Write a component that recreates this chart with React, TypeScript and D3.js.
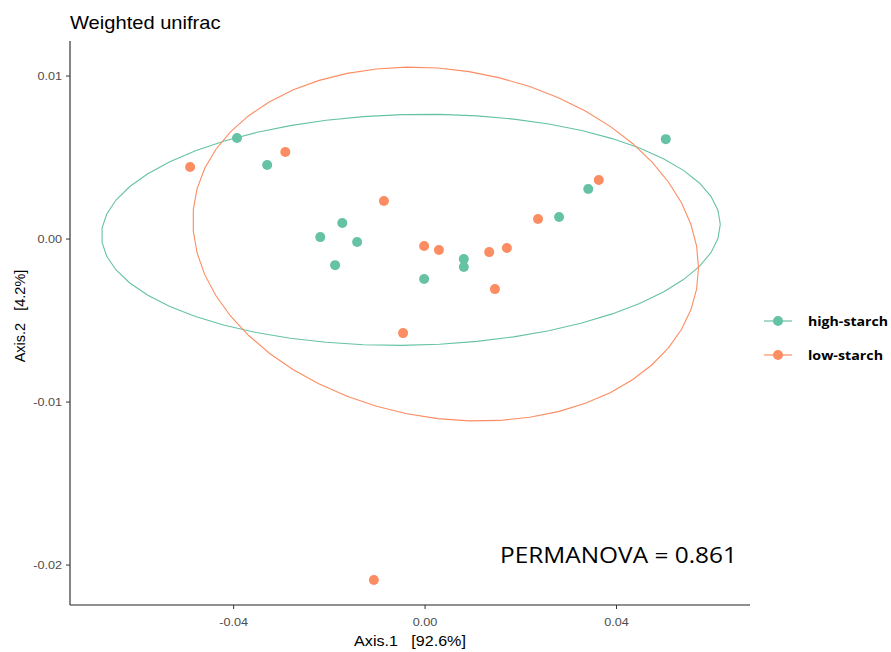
import React from "react";
import * as d3 from "d3";

const title = "Weighted unifrac";
const groups = ["high-starch", "low-starch"];
const colors = ["#66C2A5", "#FC8D62"];

const highX = [-0.0393, -0.033, -0.0219, -0.0173, -0.0142, -0.0188, -0.0002, 0.0081, 0.0081, 0.028, 0.0341, 0.0503];
const highY = [0.0062, 0.00454, 0.00012, 0.00098, -0.00018, -0.0016, -0.00245, -0.00123, -0.00172, 0.00135, 0.00307, 0.00613];
const lowX = [-0.0491, -0.0292, -0.0086, -0.0002, 0.0029, 0.0134, 0.0171, 0.0146, 0.0236, 0.0363, -0.0046, -0.0107];
const lowY = [0.00442, 0.00534, 0.00233, -0.00043, -0.00067, -0.0008, -0.00055, -0.00307, 0.00123, 0.00362, -0.00577, -0.02092];

const xTicks = [-0.04, 0, 0.04];
const yTicks = [0.01, 0, -0.01, -0.02];
const xDomain = [-0.0742, 0.0679];
const yDomain = [-0.02245, 0.01215];

// MASS::cov.trob (nu = 5) as used by ggplot2::stat_ellipse(type = "t")
function covTrob(xs: number[], ys: number[]) {
  const n = xs.length, p = 2, nu = 5;
  let loc = [d3.mean(xs)!, d3.mean(ys)!];
  let w = xs.map(() => 1);
  let X: number[][] = [];
  for (let iter = 0; iter < 25; iter++) {
    const w0 = w.slice();
    X = xs.map((x, i) => [x - loc[0], ys[i] - loc[1]]);
    const sw = d3.sum(w);
    let s11 = 0, s12 = 0, s22 = 0;
    X.forEach((v, i) => { s11 += w[i] * v[0] * v[0]; s12 += w[i] * v[0] * v[1]; s22 += w[i] * v[1] * v[1]; });
    s11 /= sw; s12 /= sw; s22 /= sw;
    const det = s11 * s22 - s12 * s12;
    const Q = X.map(v => (s22 * v[0] * v[0] - 2 * s12 * v[0] * v[1] + s11 * v[1] * v[1]) / det);
    w = Q.map(q => (nu + p) / (nu + q));
    const sw2 = d3.sum(w);
    loc = [d3.sum(xs.map((x, i) => w[i] * x)) / sw2, d3.sum(ys.map((y, i) => w[i] * y)) / sw2];
    if (w.every((v, i) => Math.abs(v - w0[i]) < 0.01)) break;
  }
  let c11 = 0, c12 = 0, c22 = 0;
  X.forEach((v, i) => { c11 += w[i] * v[0] * v[0]; c12 += w[i] * v[0] * v[1]; c22 += w[i] * v[1] * v[1]; });
  return { center: loc, cov: [c11 / n, c12 / n, c22 / n], n };
}

function ellipsePoints(xs: number[], ys: number[]) {
  const { center, cov, n } = covTrob(xs, ys);
  const dfd = n - 1;
  const fq = (dfd / 2) * (Math.pow(0.05, -2 / dfd) - 1);
  const radius = Math.sqrt(2 * fq);
  const a = Math.sqrt(cov[0]);
  const b = cov[1] / a;
  const c = Math.sqrt(cov[2] - b * b);
  const pts: [number, number][] = [];
  for (let k = 0; k <= 51; k++) {
    const t = (k / 51) * 2 * Math.PI;
    const ct = Math.cos(t), st = Math.sin(t);
    pts.push([center[0] + radius * a * ct, center[1] + radius * (b * ct + c * st)]);
  }
  return pts;
}

const SX = 1.15; // horizontal stretch of the reference rendering

function SText(props: { x: number; y: number; size: number; anchor?: string; fill?: string; weight?: string; family?: string; children: React.ReactNode }) {
  return (
    <g transform={`translate(${props.x},${props.y}) scale(${SX},1)`}>
      <text x={0} y={0} fontSize={props.size} textAnchor={props.anchor || "start"} fill={props.fill || "#000"}
        fontWeight={props.weight} fontFamily={props.family} style={{ whiteSpace: "pre" }}>{props.children}</text>
    </g>
  );
}

export default function App() {
  const W = 891, H = 652;
  const x = d3.scaleLinear().domain(xDomain).range([70, 750]);
  const y = d3.scaleLinear().domain(yDomain).range([605, 41]);
  const line = d3.line<[number, number]>().x(d => x(d[0])).y(d => y(d[1]));
  const series = [
    { xs: highX, ys: highY, color: colors[0] },
    { xs: lowX, ys: lowY, color: colors[1] },
  ];
  const tickColor = "#4D4D4D";
  const fmt = (t: number) => (t === 0 ? "0.00" : t.toFixed(2));
  return (
    <svg width={W} height={H} style={{ position: "absolute", left: 0, top: 0, background: "#fff" }}
      fontFamily="'Liberation Sans', Arial, sans-serif">
      <rect width={W} height={H} fill="#fff" />
      <SText x={70} y={29} size={17.5}>{title}</SText>
      {series.map((s, i) => (
        <path key={"e" + i} d={line(ellipsePoints(s.xs, s.ys)) || ""} fill="none" stroke={s.color} strokeWidth={1.1} />
      ))}
      {series.map((s, i) => s.xs.map((v, j) => (
        <circle key={"p" + i + "-" + j} cx={x(v)} cy={y(s.ys[j])} r={5} fill={s.color} />
      )))}
      <line x1={70} x2={70} y1={41} y2={605} stroke="#222" strokeWidth={1.1} />
      <line x1={70} x2={750} y1={605} y2={605} stroke="#222" strokeWidth={1.1} />
      {yTicks.map(t => (
        <g key={"yt" + t}>
          <line x1={66} x2={70} y1={y(t)} y2={y(t)} stroke="#333" />
          <SText x={62} y={y(t) + 4} size={11} fill={tickColor} anchor="end">{fmt(t)}</SText>
        </g>
      ))}
      {xTicks.map(t => (
        <g key={"xt" + t}>
          <line x1={x(t)} x2={x(t)} y1={605} y2={609} stroke="#333" />
          <SText x={x(t)} y={626} size={11} fill={tickColor} anchor="middle">{fmt(t)}</SText>
        </g>
      ))}
      <SText x={410} y={646} size={14} anchor="middle">{"Axis.1   [92.6%]"}</SText>
      <text transform="translate(25,316) rotate(-90)" fontSize={14.5} fill="#000" textAnchor="middle" style={{ whiteSpace: "pre" }}>{"Axis.2   [4.2%]"}</text>
      <text x={500} y={563} fontSize={22} fill="#000" fontFamily="'Open Sans', sans-serif" textLength={237} lengthAdjust="spacingAndGlyphs">PERMANOVA = 0.861</text>
      {groups.map((g, i) => (
        <g key={g} transform={`translate(0, ${321 + i * 34})`}>
          <line x1={764} x2={792} y1={0} y2={0} stroke={colors[i]} strokeWidth={1.2} />
          <circle cx={778} cy={0} r={5} fill={colors[i]} />
          <text x={808} y={5} fontSize={13} fontWeight="bold" fill="#000" fontFamily="'Open Sans', sans-serif"
            textLength={i === 0 ? 80 : 75} lengthAdjust="spacingAndGlyphs">{g}</text>
        </g>
      ))}
    </svg>
  );
}
